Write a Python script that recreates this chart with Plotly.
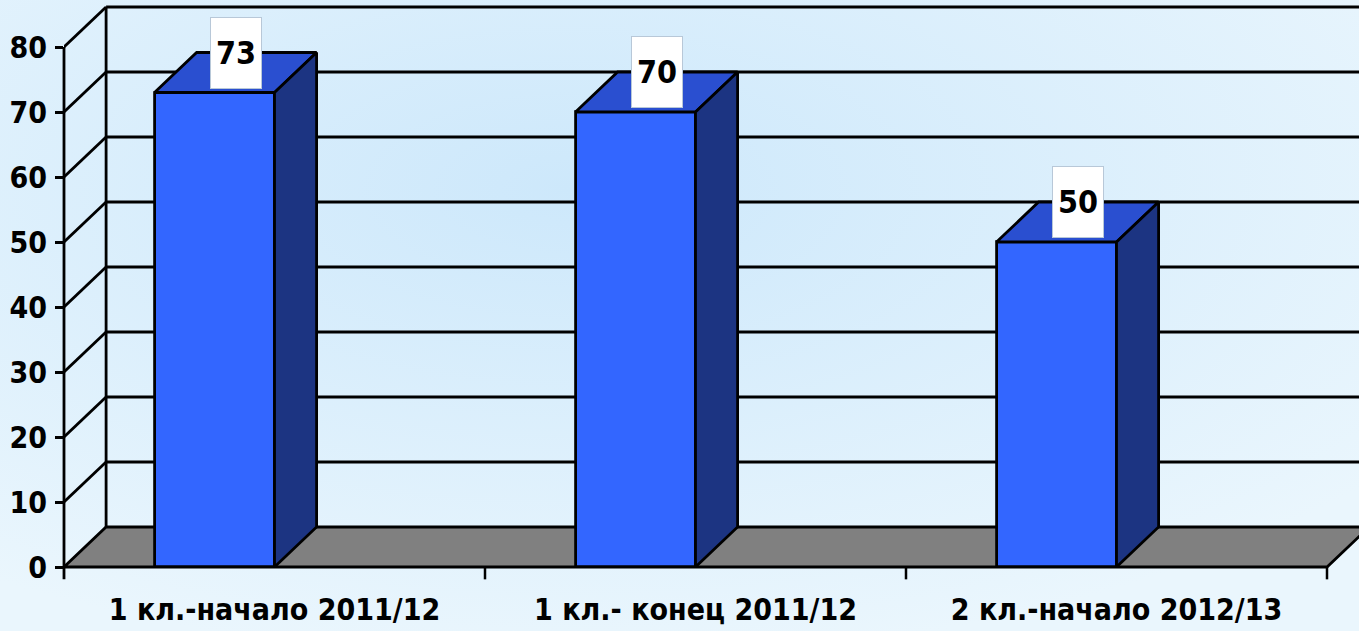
import base64
import plotly.graph_objects as go

# ---- data ----
categories = ["1 кл.-начало 2011/12", "1 кл.- конец 2011/12", "2 кл.-начало 2012/13"]
values = [73, 70, 50]
y_ticks = [0, 10, 20, 30, 40, 50, 60, 70, 80]

# ---- 3D look parameters (in axis units) ----
DX = 0.1      # depth offset along x (category units)
DY = 6.15     # depth offset along y (value units)
BW = 0.285    # bar front width (category units)
XMIN, XMAX = -0.5, 2.576
YMIN, YMAX = -2.0, 87.23

FONT = "DejaVu Sans Condensed, Liberation Sans Narrow, sans-serif"
FRONT = "#3366ff"
TOP = "#2a4fd0"
SIDE = "#1c3482"
FLOOR = "#808080"
LW = 2.8

xs = list(range(len(categories)))
ncat = len(categories)

fig = go.Figure()

# front faces of bars
fig.add_trace(go.Bar(
    x=xs, y=values, width=BW, offset=-BW,
    marker=dict(color=FRONT, line=dict(color="black", width=LW)),
    hoverinfo="skip", showlegend=False,
))

# top and side faces
tx, ty, sx, sy = [], [], [], []
for i, v in zip(xs, values):
    l, r = i - BW, i
    tx += [l, l + DX, r + DX, r, l, None]
    ty += [v, v + DY, v + DY, v, v, None]
    sx += [r, r + DX, r + DX, r, r, None]
    sy += [0, DY, v + DY, v, 0, None]
fig.add_trace(go.Scatter(x=tx, y=ty, mode="lines", fill="toself", fillcolor=TOP,
                         line=dict(color="black", width=LW), hoverinfo="skip", showlegend=False))
fig.add_trace(go.Scatter(x=sx, y=sy, mode="lines", fill="toself", fillcolor=SIDE,
                         line=dict(color="black", width=LW), hoverinfo="skip", showlegend=False))

shapes = []
# back wall gridlines + connectors on left wall
for v in y_ticks:
    if v == 0:
        continue
    shapes.append(dict(type="line", xref="x", yref="y", x0=XMIN, y0=v, x1=XMIN + DX, y1=v + DY,
                       line=dict(color="black", width=LW), layer="below"))
    shapes.append(dict(type="line", xref="x", yref="y", x0=XMIN + DX, y0=v + DY, x1=XMAX + 1, y1=v + DY,
                       line=dict(color="black", width=3), layer="below"))
# back wall left edge
shapes.append(dict(type="line", xref="x", yref="y", x0=XMIN + DX, y0=DY, x1=XMIN + DX, y1=y_ticks[-1] + DY,
                   line=dict(color="black", width=LW), layer="below"))
# floor
x_end = XMIN + ncat
shapes.append(dict(type="path", xref="x", yref="y",
                   path=f"M {XMIN},0 L {x_end},0 L {x_end + DX},{DY} L {XMIN + DX},{DY} Z",
                   fillcolor=FLOOR, line=dict(color="black", width=LW), layer="below"))
# x axis tick marks at category boundaries
for k in range(1, ncat + 1):
    shapes.append(dict(type="line", xref="x", yref="y", x0=XMIN + k, y0=0, x1=XMIN + k, y1=-1.9,
                       line=dict(color="black", width=2.5), layer="above"))
# y axis line
shapes.append(dict(type="line", xref="paper", yref="y", x0=0, y0=-1.9, x1=0, y1=y_ticks[-1],
                   line=dict(color="black", width=2.8), layer="above"))

# value labels
annotations = []
for i, v in zip(xs, values):
    annotations.append(dict(
        x=i - BW / 2 + DX / 2, y=v + DY, xref="x", yref="y", text=f"<b>{v}</b>",
        showarrow=False, width=48, height=68, bgcolor="white", bordercolor="#b8c8d8", borderwidth=1,
        font=dict(family=FONT, size=32, color="black"), xanchor="center", yanchor="middle",
    ))

svg = ("<svg xmlns='http://www.w3.org/2000/svg' width='1359' height='631' preserveAspectRatio='none'>"
       "<defs><radialGradient id='g' cx='0.42' cy='0.3' r='0.75'>"
       "<stop offset='0' stop-color='#cde8fb'/><stop offset='1' stop-color='#eaf6fd'/>"
       "</radialGradient></defs><rect width='1359' height='631' fill='url(#g)'/></svg>")
src = "data:image/svg+xml;base64," + base64.b64encode(svg.encode()).decode()

W, H = 1359, 631
ML, MB = 64, 51
pw, ph = W - ML, H - MB

fig.update_layout(
    width=W, height=H,
    margin=dict(l=ML, r=0, t=0, b=MB, autoexpand=False),
    paper_bgcolor="#dff1fc", plot_bgcolor="rgba(0,0,0,0)",
    shapes=shapes, annotations=annotations,
    images=[dict(source=src, xref="paper", yref="paper", x=-ML / pw, y=1, sizex=W / pw, sizey=H / ph,
                 xanchor="left", yanchor="top", sizing="stretch", layer="below")],
    xaxis=dict(range=[XMIN, XMAX], tickvals=xs, ticktext=[f"<b>{c}</b>" for c in categories],
               showgrid=False, zeroline=False, showline=False, ticks="", automargin=False,
               tickfont=dict(family=FONT, size=30, color="black"), ticklabelstandoff=9,
               fixedrange=True),
    yaxis=dict(range=[YMIN, YMAX], tickvals=y_ticks, ticktext=[f"<b>{t}</b>" for t in y_ticks],
               showgrid=False, zeroline=False, showline=False, ticks="outside", ticklen=8,
               tickwidth=2.8, tickcolor="black", automargin=False,
               tickfont=dict(family=FONT, size=30, color="black"), ticklabelstandoff=2,
               fixedrange=True),
    bargap=0,
)

fig.write_html("out.html", config={"displayModeBar": False},
               post_script="document.body.style.margin='0';document.body.style.overflow='hidden';")
